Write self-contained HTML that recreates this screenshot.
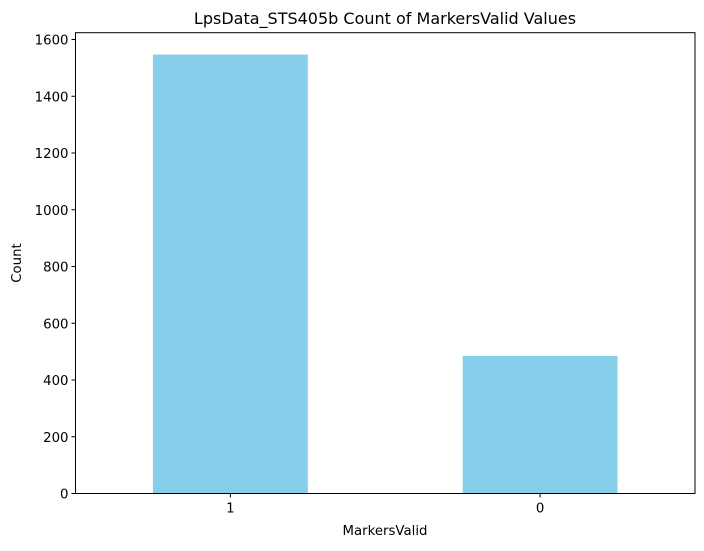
<!DOCTYPE html>
<html><head><meta charset="utf-8"><style>
body{margin:0;background:#fff;font-family:"DejaVu Sans","Liberation Sans",sans-serif;}
</style></head><body>
<svg id="chart" width="704" height="547" xmlns="http://www.w3.org/2000/svg" font-family="DejaVu Sans, Liberation Sans, sans-serif">
<text x="385" y="24" text-anchor="middle" font-size="16">LpsData_STS405b Count of MarkersValid Values</text>
<g id="bars"></g>
<rect x="75.5" y="32.7" width="619.5" height="460.8" fill="none" stroke="#000" stroke-width="1"/>
<g id="yticks" font-size="13.3" text-anchor="end"></g>
<g id="xticks" font-size="13.3" text-anchor="middle"></g>
<text x="385" y="535" text-anchor="middle" font-size="13.3">MarkersValid</text>
<text transform="translate(21,263) rotate(-90)" text-anchor="middle" font-size="13.3">Count</text>
</svg>
<script>
const categories=["1","0"];
const counts=[1547,485];
const yTicks=[0,200,400,600,800,1000,1200,1400,1600];
const ns="http://www.w3.org/2000/svg";
const L=75.5,R=695,T=32.7,B=493.5,yMax=1624;
const y=v=>B-(v/yMax)*(B-T);
const unit=(R-L)/categories.length;
const xc=i=>L+unit*(i+0.5);
const bars=document.getElementById('bars');
categories.forEach((c,i)=>{
 const r=document.createElementNS(ns,'rect');
 r.setAttribute('x',xc(i)-unit/4);r.setAttribute('width',unit/2);
 r.setAttribute('y',y(counts[i]));r.setAttribute('height',B-y(counts[i]));
 r.setAttribute('fill','#87ceeb');
 
 
 bars.appendChild(r);
 const xt=document.getElementById('xticks');
 const l=document.createElementNS(ns,'line');
 l.setAttribute('x1',xc(i));l.setAttribute('x2',xc(i));l.setAttribute('y1',B);l.setAttribute('y2',B+4);l.setAttribute('stroke','#000');
 
 
 xt.appendChild(l);
 const t=document.createElementNS(ns,'text');
 t.setAttribute('x',xc(i));t.setAttribute('y',B+19);t.textContent=c;
 
 
 xt.appendChild(t);
});
const yt=document.getElementById('yticks');
yTicks.forEach(v=>{
 const l=document.createElementNS(ns,'line');
 l.setAttribute('x1',L-4);l.setAttribute('x2',L);l.setAttribute('y1',y(v));l.setAttribute('y2',y(v));l.setAttribute('stroke','#000');
 
 
 yt.appendChild(l);
 const t=document.createElementNS(ns,'text');
 t.setAttribute('x',L-7);t.setAttribute('y',y(v)+5);t.textContent=v;
 
 
 yt.appendChild(t);
});
</script>
</body></html>
